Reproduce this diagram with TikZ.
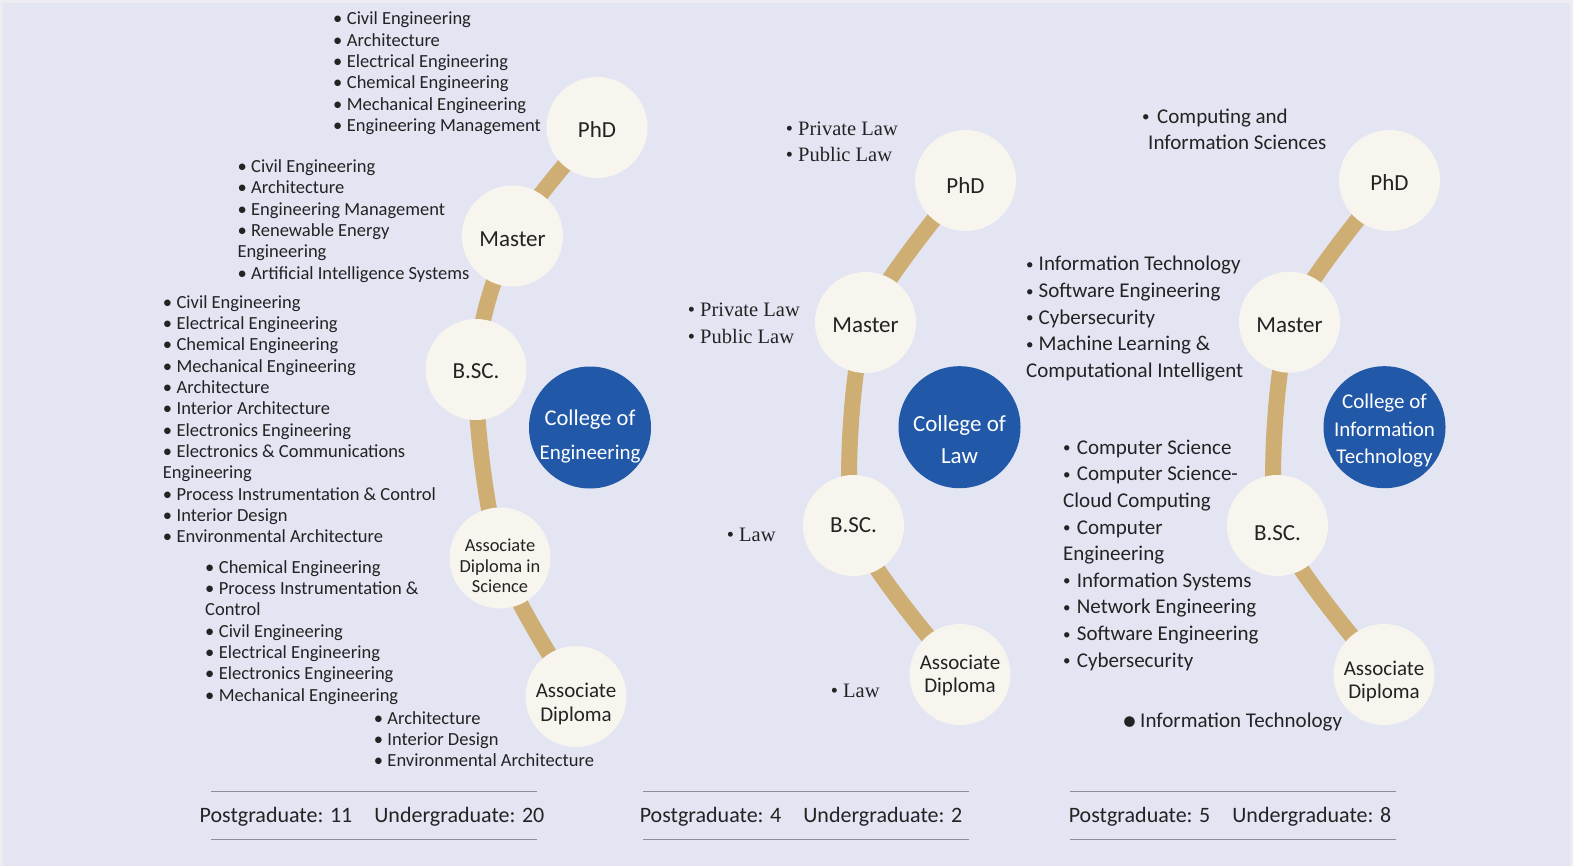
\documentclass[tikz,border=0pt]{standalone}
\usepackage{fontspec}
\setmainfont{Carlito}
\newfontfamily\lawfont{Liberation Serif}
\pgfdeclarelayer{bg}
\pgfsetlayers{bg,main}
\definecolor{bgc}{HTML}{E3E5F3}
\definecolor{edgec}{HTML}{EDEDF1}
\definecolor{cream}{HTML}{F7F5EE}
\definecolor{collblue}{HTML}{2158A8}
\definecolor{tanc}{HTML}{CFAE74}
\definecolor{ink}{HTML}{232323}
\definecolor{rulec}{HTML}{8E8E98}
\newcommand\mylist[1]{\vtop{\halign{##\hfil\cr#1\crcr}}}
\newcommand\mycent[1]{\vtop{\halign{\hfil##\hfil\cr#1\crcr}}}
\newcommand\clab[2]{\raisebox{#1pt}[0pt][0pt]{\makebox[0pt]{\mycent{#2}}}}
\newcommand\bul[1]{\makebox[#1pt][l]{•}}
\newcommand\bulE{\bul{13.7}}
\newcommand\bulL{\bul{12.3}}
\newcommand\smallbul[1]{\makebox[#1pt][l]{\raisebox{1.5pt}{\fontsize{15pt}{15pt}\selectfont •}}}
\newcommand\bulI{\smallbul{12.5}}
\tikzset{
 lvl/.style={circle, fill=cream, minimum size=101pt, inner sep=0pt, text=ink, font=\fontsize{23pt}{27pt}\selectfont},
 coll/.style={circle, fill=collblue, minimum size=122pt, inner sep=0pt, text=white, font=\fontsize{22.5pt}{34pt}\selectfont},
 conn/.style={draw=tanc, line width=16pt},
 elist/.style={anchor=base west, inner sep=0pt, text=ink, font=\fontsize{18.5pt}{21.3pt}\selectfont},
 llist/.style={anchor=base west, inner sep=0pt, text=ink, font=\lawfont\fontsize{20.5pt}{26pt}\selectfont},
 ilist/.style={anchor=base west, inner sep=0pt, text=ink, font=\fontsize{21pt}{26.6pt}\selectfont},
 tally/.style={anchor=base, inner sep=0pt, text=ink, font=\fontsize{22pt}{26pt}\selectfont},
 sepline/.style={draw=rulec, line width=1.5pt},
}
\begin{document}
\begin{tikzpicture}[x=1pt,y=-1pt]
\useasboundingbox (0,0) rectangle (1573,866);
% ---------- Engineering ----------
\node[lvl] (ephd) at (597,127.5) {\clab{-10.2}{PhD}};
\node[lvl] (emas) at (512.5,236) {\clab{-11}{Master}};
\node[lvl] (ebsc) at (476,369.5) {\clab{-8.8}{B.SC.}};
\node[lvl, font=\fontsize{18.4pt}{20.5pt}\selectfont] (eads) at (500,558) {\clab{6.5}{Associate\cr Diploma in\cr Science}};
\node[lvl, font=\fontsize{21pt}{23.7pt}\selectfont] (ead) at (576,696.5) {\clab{-0.8}{Associate\cr Diploma}};
\node[coll] (ecol) at (590,427.5) {\clab{2.5}{College of\cr \fontsize{21pt}{34pt}\selectfont Engineering}};

\node[elist] (ephdl) at (333,25) {\mylist{\bulE Civil Engineering\cr \bulE Architecture\cr \bulE Electrical Engineering\cr \bulE Chemical Engineering\cr \bulE Mechanical Engineering\cr \bulE Engineering Management}};
\node[elist] (emasl) at (237.3,172.7) {\mylist{\bulE Civil Engineering\cr \bulE Architecture\cr \bulE Engineering Management\cr \bulE Renewable Energy\cr Engineering\cr \bulE Artificial Intelligence Systems}};
\node[elist] (ebscl) at (162.7,308.3) {\mylist{\bulE Civil Engineering\cr \bulE Electrical Engineering\cr \bulE Chemical Engineering\cr \bulE Mechanical Engineering\cr \bulE Architecture\cr \bulE Interior Architecture\cr \bulE Electronics Engineering\cr \bulE Electronics \& Communications\cr Engineering\cr \bulE Process Instrumentation \& Control\cr \bulE Interior Design\cr \bulE Environmental Architecture}};
\node[elist] (eadsl) at (205,573.3) {\mylist{\bulE Chemical Engineering\cr \bulE Process Instrumentation \&\cr Control\cr \bulE Civil Engineering\cr \bulE Electrical Engineering\cr \bulE Electronics Engineering\cr \bulE Mechanical Engineering}};
\node[elist] (eadl) at (373.6,724.3) {\mylist{\bulE Architecture\cr \bulE Interior Design\cr \bulE Environmental Architecture}};

% ---------- Law ----------
\node[lvl] (lphd) at (965.5,180.5) {\clab{-12.8}{PhD}};
\node[lvl] (lmas) at (865.5,322.5) {\clab{-9.8}{Master}};
\node[lvl] (lbsc) at (853.5,525.5) {\clab{-6.8}{B.SC.}};
\node[lvl, font=\fontsize{21pt}{23pt}\selectfont] (lad) at (960,674.5) {\clab{5.2}{Associate\cr Diploma}};
\node[coll, font=\fontsize{23pt}{31.6pt}\selectfont] (lcol) at (959.5,427.2) {\clab{-4.5}{College of\cr Law}};

\node[llist] (lphdl) at (785.7,136) {\mylist{\bulL Private Law\cr \bulL Public Law}};
\node[llist, font=\lawfont\fontsize{20.5pt}{27pt}\selectfont] (lmasl) at (687.7,317) {\mylist{\bulL Private Law\cr \bulL Public Law}};
\node[llist] (lbscl) at (726.7,541) {\bulL Law};
\node[llist] (ladl) at (830.7,697.5) {\bulL Law};

% ---------- Information Technology ----------
\node[lvl] (iphd) at (1389.5,180.5) {\clab{-10.5}{PhD}};
\node[lvl] (imas) at (1289.5,322.2) {\clab{-10.1}{Master}};
\node[lvl] (ibsc) at (1277.5,525.5) {\clab{-14.5}{B.SC.}};
\node[lvl, font=\fontsize{21pt}{23.3pt}\selectfont] (iad) at (1384,674.5) {\clab{-0.5}{Associate\cr Diploma}};
\node[coll, font=\fontsize{21pt}{27.8pt}\selectfont] (icol) at (1384.5,427.2) {\clab{18.9}{College of\cr Information\cr Technology}};

\node[ilist, font=\fontsize{21pt}{26pt}\selectfont] (iphdl) at (1142,123.5) {\mylist{\smallbul{15}Computing and\cr \hspace*{6pt}Information Sciences}};
\node[ilist] (imasl) at (1026,271) {\mylist{\bulI Information Technology\cr \bulI Software Engineering\cr \bulI Cybersecurity\cr \bulI Machine Learning \&\cr Computational Intelligent}};
\node[ilist] (ibscl) at (1063,454.3) {\mylist{\smallbul{13.7}Computer Science\cr \smallbul{13.7}Computer Science-\cr Cloud Computing\cr \smallbul{13.7}Computer\cr Engineering\cr \smallbul{13.7}Information Systems\cr \smallbul{13.7}Network Engineering\cr \smallbul{13.7}Software Engineering\cr \smallbul{13.7}Cybersecurity}};
\node[ilist] (iadl) at (1122,727) {\makebox[18pt][l]{\raisebox{-3pt}{\fontsize{30pt}{30pt}\selectfont •}}Information Technology};

% ---------- Tallies ----------
\node[tally] (etally) at (372,822) {Postgraduate: 11\hspace{22pt}Undergraduate: 20};
\node[tally] (ltally) at (801,822) {Postgraduate: 4\hspace{22pt}Undergraduate: 2};
\node[tally] (itally) at (1230,822) {Postgraduate: 5\hspace{22pt}Undergraduate: 8};
\draw[sepline] (211,791.5) -- (537,791.5);
\draw[sepline] (211,839.5) -- (537,839.5);
\draw[sepline] (643,791.5) -- (969,791.5);
\draw[sepline] (643,839.5) -- (969,839.5);
\draw[sepline] (1070,791.5) -- (1396,791.5);
\draw[sepline] (1070,839.5) -- (1396,839.5);

% ---------- background and connectors ----------
\begin{pgfonlayer}{bg}
\fill[edgec] (0,0) rectangle (1573,866);
\fill[bgc] (3,3) rectangle (1570,866);
\draw[conn] plot[smooth, tension=0.5] coordinates {(ephd.center) (emas.center) (ebsc.center) (eads.center) (ead.center)};
\draw[conn] plot[smooth, tension=0.4] coordinates {(lphd.center) (lmas.center) (lbsc.center) (lad.center)};
\draw[conn] plot[smooth, tension=0.4] coordinates {(iphd.center) (imas.center) (ibsc.center) (iad.center)};
\end{pgfonlayer}
\end{tikzpicture}
\end{document}
